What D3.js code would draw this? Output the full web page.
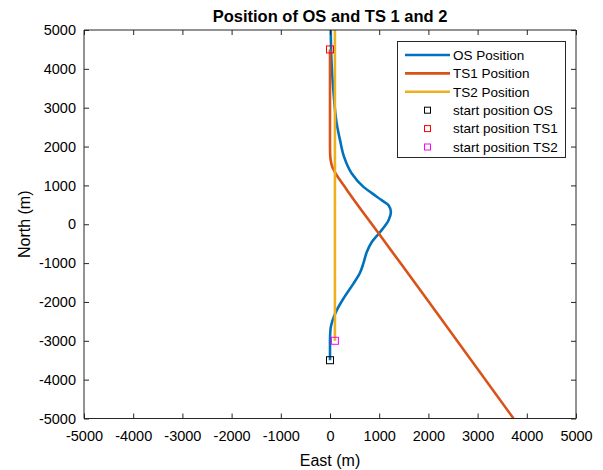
<!DOCTYPE html>
<html>
<head>
<meta charset="utf-8">
<script src="https://cdn.jsdelivr.net/npm/d3@7"></script>
<style>
  html, body { margin: 0; padding: 0; background: #fff; }
  svg { display: block; font-family: "Liberation Sans", Arial, Helvetica, sans-serif; }
</style>
</head>
<body>
<div id="chart"></div>
<script>
// Own ship track (east, north) in metres
const osTrack = [
  [0, -3500], [0, -3000], [10, -2700], [50, -2480], [136, -2216], [272, -1915],
  [476, -1528], [610, -1250], [680, -1000], [748, -714], [850, -456], [1020, -198],
  [1190, 103], [1238, 317], [1190, 490], [1050, 620], [850, 800], [680, 962],
  [442, 1306], [286, 1735], [204, 2165], [136, 2595], [68, 3454], [30, 4200], [15, 5000]
];
// Target ship 1 track
const ts1Track = [
  [0, 4500], [0, 3500], [0, 2000], [3, 1800], [15, 1640], [45, 1480], [100, 1340],
  [340, 890], [980, -220], [2000, -1980], [3730, -5000]
];
// Target ship 2 track
const ts2Track = [[100, -3000], [100, 5000]];

// Start positions
const startOS = [0, -3500];
const startTS1 = [0, 4500];
const startTS2 = [100, -3000];

const xTicks = [-5000, -4000, -3000, -2000, -1000, 0, 1000, 2000, 3000, 4000, 5000];
const yTicks = [-5000, -4000, -3000, -2000, -1000, 0, 1000, 2000, 3000, 4000, 5000];

const legendItems = [
  { label: "OS Position", type: "line", color: "#0072BD" },
  { label: "TS1 Position", type: "line", color: "#D95319" },
  { label: "TS2 Position", type: "line", color: "#EDB120" },
  { label: "start position OS", type: "marker", color: "#000000" },
  { label: "start position TS1", type: "marker", color: "#FF0000" },
  { label: "start position TS2", type: "marker", color: "#FF00FF" }
];

const W = 603, H = 470;
const L = 84, R = 576, T = 30, B = 418.5;
const axisColor = "#262626";
const lw = 2.6;

const svg = d3.select("#chart").append("svg")
  .attr("width", W).attr("height", H);

const x = d3.scaleLinear().domain([-5000, 5000]).range([L, R]);
const y = d3.scaleLinear().domain([-5000, 5000]).range([B, T]);

svg.append("defs").append("clipPath").attr("id", "plotclip")
  .append("rect").attr("x", L).attr("y", T).attr("width", R - L).attr("height", B - T);

const plot = svg.append("g").attr("clip-path", "url(#plotclip)");

const line = d3.line().x(d => x(d[0])).y(d => y(d[1])).curve(d3.curveMonotoneY);

plot.append("path").datum(osTrack).attr("d", line)
  .attr("fill", "none").attr("stroke", "#0072BD").attr("stroke-width", lw);
plot.append("path").datum(ts1Track).attr("d", line)
  .attr("fill", "none").attr("stroke", "#D95319").attr("stroke-width", lw);
plot.append("path").datum(ts2Track).attr("d", d3.line().x(d => x(d[0])).y(d => y(d[1])))
  .attr("fill", "none").attr("stroke", "#EDB120").attr("stroke-width", lw);

const ms = 7;
[[startOS, "#000000"], [startTS1, "#FF0000"], [startTS2, "#FF00FF"]].forEach(([p, c]) => {
  plot.append("rect")
    .attr("x", x(p[0]) - ms / 2).attr("y", y(p[1]) - ms / 2)
    .attr("width", ms).attr("height", ms)
    .attr("fill", "none").attr("stroke", c).attr("stroke-width", 1);
});

// Axes: ticks point inward, mirrored on the top and right edges
const tickLen = 5;

const xAxisB = d3.axisBottom(x).tickValues(xTicks).tickSize(-tickLen).tickPadding(12.5).tickFormat(d => String(d));
const xAxisT = d3.axisTop(x).tickValues(xTicks).tickSize(-tickLen).tickFormat("");
const yAxisL = d3.axisLeft(y).tickValues(yTicks).tickSize(-tickLen).tickPadding(8).tickFormat(d => String(d));
const yAxisR = d3.axisRight(y).tickValues(yTicks).tickSize(-tickLen).tickFormat("");

function style(g) {
  g.select(".domain").attr("stroke", axisColor).attr("stroke-width", 1);
  g.selectAll(".tick line").attr("stroke", axisColor).attr("stroke-width", 1);
  g.selectAll(".tick text").attr("fill", "#000").attr("font-size", 14.5)
    .attr("font-family", "'Liberation Sans', Arial, sans-serif");
}

svg.append("g").attr("transform", `translate(0,${B})`).call(xAxisB).call(style)
  .call(g => g.select(".domain").attr("d", `M${L},0H${R}`));
svg.append("g").attr("transform", `translate(0,${T})`).call(xAxisT).call(style)
  .call(g => g.select(".domain").attr("d", `M${L},0H${R}`));
svg.append("g").attr("transform", `translate(${L},0)`).call(yAxisL).call(style)
  .call(g => g.select(".domain").attr("d", `M0,${T}V${B}`));
svg.append("g").attr("transform", `translate(${R},0)`).call(yAxisR).call(style)
  .call(g => g.select(".domain").attr("d", `M0,${T}V${B}`));

// Title and axis labels
svg.append("text").attr("x", (L + R) / 2).attr("y", 22)
  .attr("text-anchor", "middle").attr("font-weight", "bold").attr("font-size", 16.5)
  .attr("fill", "#000").text("Position of OS and TS 1 and 2");
svg.append("text").attr("x", (L + R) / 2).attr("y", 466)
  .attr("text-anchor", "middle").attr("font-size", 16).attr("fill", "#000")
  .text("East (m)");
svg.append("text").attr("transform", `translate(30,${(T + B) / 2}) rotate(-90)`)
  .attr("text-anchor", "middle").attr("font-size", 16).attr("fill", "#000")
  .text("North (m)");

// Legend
const lg = svg.append("g");
lg.append("rect").attr("x", 397.5).attr("y", 41.5).attr("width", 168).attr("height", 116)
  .attr("fill", "#fff").attr("stroke", axisColor).attr("stroke-width", 1);
legendItems.forEach((it, i) => {
  const cy = 55 + i * 18.4;
  if (it.type === "line") {
    lg.append("line").attr("x1", 405).attr("x2", 450).attr("y1", cy).attr("y2", cy)
      .attr("stroke", it.color).attr("stroke-width", lw);
  } else {
    lg.append("rect").attr("x", 427.5 - 3).attr("y", cy - 3).attr("width", 6).attr("height", 6)
      .attr("fill", "none").attr("stroke", it.color).attr("stroke-width", 1);
  }
  lg.append("text").attr("x", 453).attr("y", cy).attr("dy", "0.35em")
    .attr("font-size", 13.5).attr("fill", "#000").text(it.label);
});
</script>
</body>
</html>
